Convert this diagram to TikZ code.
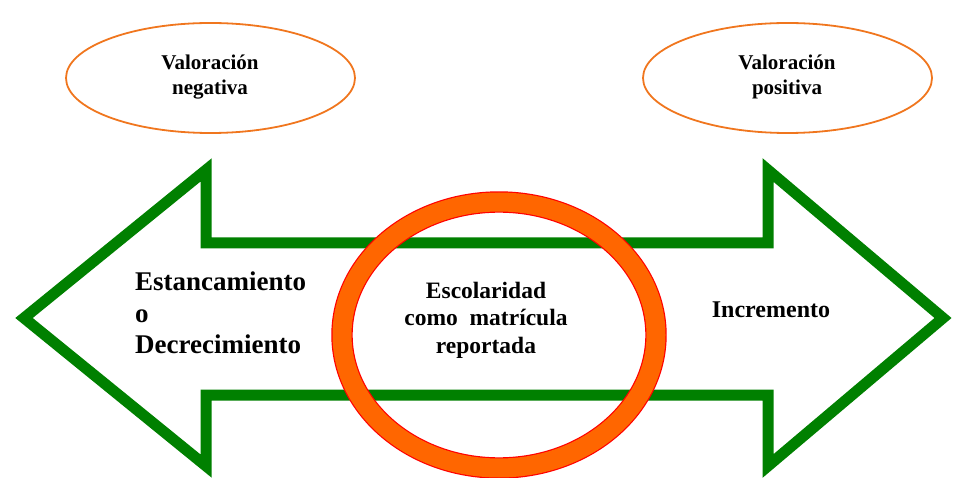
\documentclass[tikz,border=0pt]{standalone}
\usepackage{fontspec}
\setmainfont{Liberation Serif}
\usetikzlibrary{shapes.geometric}
\definecolor{arrowgreen}{RGB}{0,128,0}
\definecolor{ringorange}{RGB}{255,102,0}
\definecolor{ringred}{RGB}{255,0,0}
\definecolor{ovalorange}{RGB}{240,118,30}

\begin{document}
\begin{tikzpicture}[x=1pt, y=-1pt,
    oval/.style={ellipse, draw=ovalorange, line width=1.8pt, minimum width=289pt, minimum height=110pt},
    ovaltext/.style={font=\bfseries\fontsize{21}{24.5}\selectfont, align=center, inner sep=0pt},
    bigtext/.style={font=\bfseries\fontsize{27}{31.5}\selectfont, align=left, inner sep=0pt},
    midtext/.style={font=\bfseries\fontsize{23.5}{27.5}\selectfont, align=center, inner sep=0pt}]
    \useasboundingbox (0,0) rectangle (953,478);
    % Draw the double arrow outline
    \draw[arrowgreen, line width=11pt, miter limit=10]
        (24,318) -- (206,170) -- (206,243) -- (768,243) -- (768,170)
        -- (943,318) -- (768,466) -- (768,395) -- (206,395) -- (206,466) -- cycle;
    % Draw the ring in the middle
    \draw[draw=ringred, line width=1.2pt, double=ringorange, double distance=19pt]
        (499,335) ellipse (157 and 133);
    % Draw the two ovals on top
    \node[oval] (neg) at (210.5,78) {};
    \node[oval] (pos) at (787.5,78) {};
    \node[ovaltext] (negtext) at (210,77) {Valoración\\negativa};
    \node[ovaltext] (postext) at (787,77) {Valoración\\positiva};
    % Add labels inside the arrow
    \node[bigtext, anchor=west] (down) at (135,313) {Estancamiento\\o\\Decrecimiento};
    \node[midtext] (school) at (486,320) {Escolaridad\\como\ \ matrícula\\reportada};
    \node[font=\bfseries\fontsize{24}{28}\selectfont, inner sep=0pt, anchor=base] (up) at (771,317) {Incremento};
\end{tikzpicture}
\end{document}
